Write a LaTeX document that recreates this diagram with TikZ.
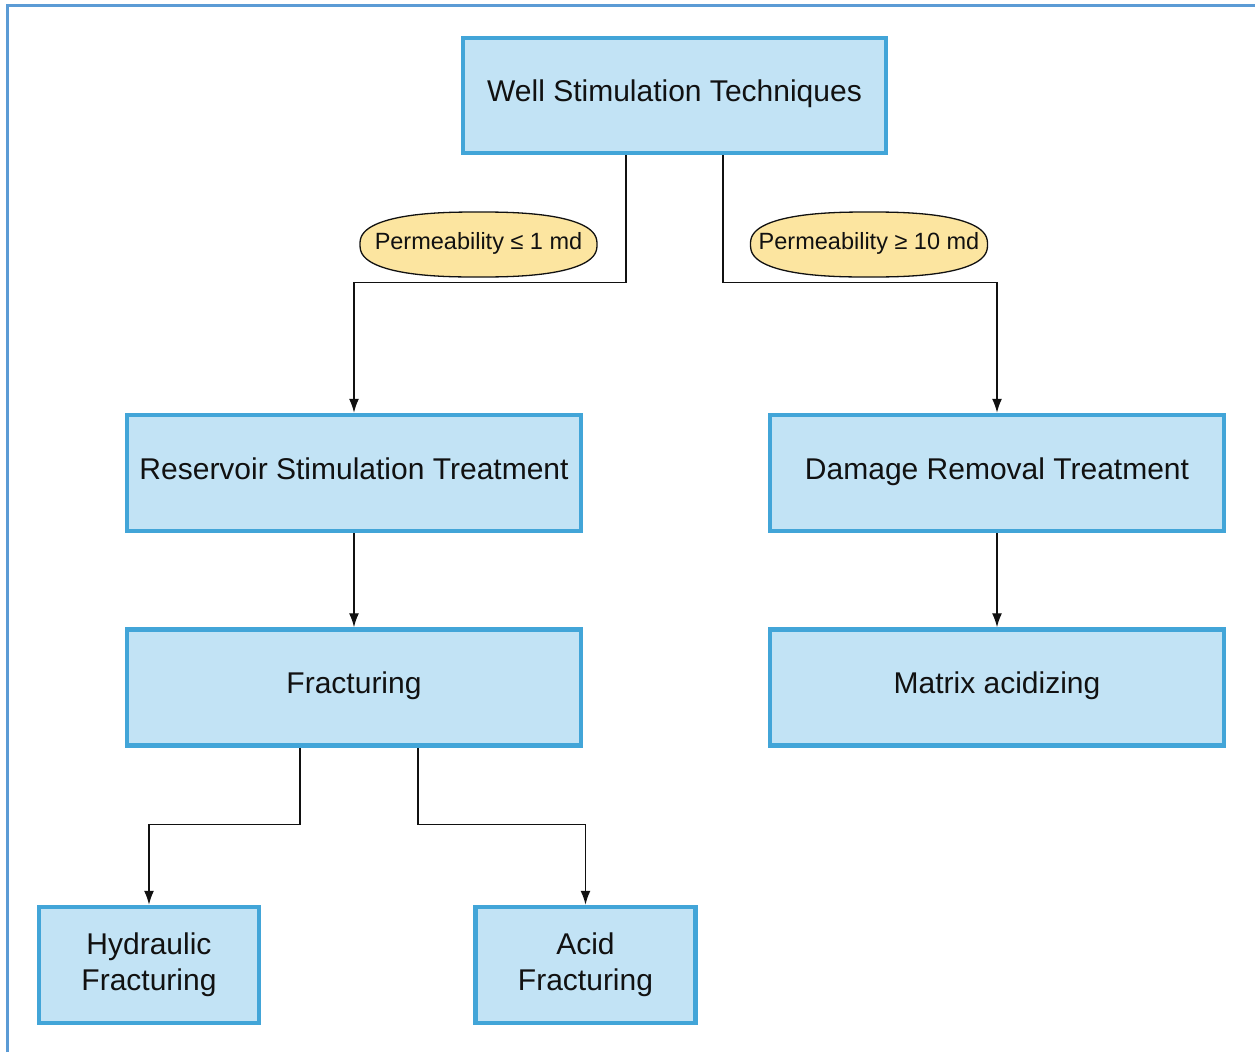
\documentclass[tikz,border=0pt]{standalone}
\usepackage{fontspec}
\setmainfont{Liberation Sans}
\usetikzlibrary{arrows.meta,calc}
\definecolor{boxedge}{RGB}{66,165,216}
\definecolor{boxfill}{RGB}{194,227,245}
\definecolor{tagfill}{RGB}{252,229,160}
\definecolor{frameblue}{RGB}{91,155,213}
\definecolor{ink}{RGB}{17,17,17}
\tikzset{
  stepbox/.style={rectangle, draw=boxedge, fill=boxfill, line width=4.5pt,
    inner sep=0pt, align=center, text=ink,
    font=\fontsize{30}{36}\selectfont},
  oneline/.style={text height=22pt, text depth=10pt},
  tagtext/.style={inner sep=0pt, text=ink, font=\fontsize{23.5}{28}\selectfont},
  tagshape/.style={draw=ink, fill=tagfill, line width=1.3pt},
  arr/.style={draw=ink, line width=1.4pt, -{Latex[length=14pt,width=10pt]}},
}
% two centred lines, set a little above the middle of their box
\newcommand\twolines[2]{\raisebox{3pt}{\begin{tabular}{@{}c@{}}#1\\#2\end{tabular}}}
% rounded (super-elliptic) outline of a tag, centred on the given point
\newcommand\tagoutline[1]{%
  \draw[tagshape, shift={(#1)}] plot[domain=1:361, samples=120, smooth]
    ({118.5*sign(cos(\x))*abs(cos(\x))^0.8}, {32.5*sign(sin(\x))*abs(sin(\x))^0.8}) -- cycle;}
\begin{document}
\begin{tikzpicture}[x=1pt, y=-1pt]
  \useasboundingbox (0,0) rectangle (1255,1052);
  % page frame (top and left edges)
  \draw[frameblue, line width=3pt] (7,1052) -- (7,5) -- (1255,5);

  % boxes
  \node[stepbox, oneline, minimum width=423pt, minimum height=115pt] (top) at (674.5,95.5) {Well Stimulation Techniques};
  \node[stepbox, oneline, minimum width=454pt, minimum height=116pt] (res) at (354,473) {Reservoir Stimulation Treatment};
  \node[stepbox, oneline, minimum width=454pt, minimum height=116pt] (dmg) at (997,473) {Damage Removal Treatment};
  \node[stepbox, oneline, minimum width=454pt, minimum height=116pt] (frac) at (354,687.5) {Fracturing};
  \node[stepbox, oneline, minimum width=454pt, minimum height=116pt] (mat) at (997,687.5) {Matrix acidizing};
  \node[stepbox, minimum width=220pt, minimum height=116pt] (hyd) at (149,965) {\twolines{Hydraulic}{Fracturing}};
  \node[stepbox, minimum width=220pt, minimum height=116pt] (acid) at (585.5,965) {\twolines{Acid}{Fracturing}};

  % connectors
  \draw[arr] ([xshift=-48.5pt]top.south) |- ($(res.north)+(0,-130)$) -- (res.north);
  \draw[arr] ([xshift=48.5pt]top.south) |- ($(dmg.north)+(0,-130)$) -- (dmg.north);
  \draw[arr] (res.south) -- (frac.north);
  \draw[arr] (dmg.south) -- (mat.north);
  \draw[arr] ([xshift=-54pt]frac.south) |- ($(hyd.north)+(0,-80)$) -- (hyd.north);
  \draw[arr] ([xshift=64pt]frac.south) |- ($(acid.north)+(0,-80)$) -- (acid.north);

  % permeability tags
  \coordinate (loc) at (478.5,244.5);
  \coordinate (hic) at (869,244.5);
  \tagoutline{loc}
  \tagoutline{hic}
  \node[tagtext] (lo) at ([yshift=1.5pt]loc) {Permeability ≤ 1 md};
  \node[tagtext] (hi) at ([yshift=1.5pt]hic) {Permeability ≥ 10 md};
\end{tikzpicture}
\end{document}
